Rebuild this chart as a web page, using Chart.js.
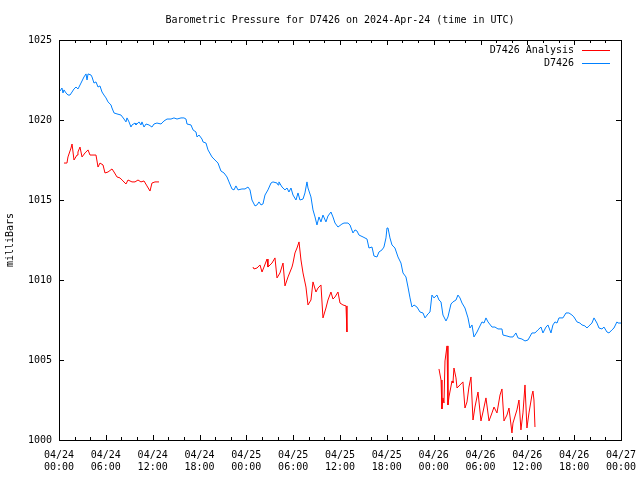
<!DOCTYPE html>
<html>
<head>
<meta charset="utf-8">
<script src="https://cdn.jsdelivr.net/npm/chart.js@4/dist/chart.umd.min.js"></script>
<style>
html,body{margin:0;padding:0;background:#fff;}
#wrap{width:640px;height:480px;}
</style>
</head>
<body>
<div id="wrap"><canvas id="c" width="640" height="480"></canvas></div>
<script>
// ---- DATA (hours since 2024-04-24 00:00 UTC, pressure in mb) ----
const blueHours = [0.13,0.38,0.51,0.64,0.90,1.15,1.41,1.67,1.92,2.18,2.43,2.56,2.82,3.20,3.46,3.59,3.72,4.10,4.23,4.48,
4.74,5.00,5.25,5.51,5.76,6.02,6.28,6.66,6.79,7.05,7.43,7.94,8.33,8.58,8.71,8.97,9.22,9.35,9.74,9.86,
10.25,10.50,10.63,10.89,11.15,11.53,11.91,12.17,12.55,13.07,13.45,13.84,14.35,14.73,15.12,15.63,16.01,16.27,16.40,16.91,
17.17,17.55,17.68,17.94,18.32,18.45,18.83,19.09,19.60,19.98,20.37,20.75,21.14,21.52,21.78,22.16,22.42,22.67,22.93,23.44,
23.83,24.21,24.47,24.72,25.11,25.37,25.62,25.88,26.13,26.39,26.77,27.16,27.41,27.93,28.06,28.18,28.57,28.95,29.21,29.46,
29.72,29.98,30.36,30.62,30.87,31.26,31.51,31.77,31.90,32.28,32.54,32.80,33.05,33.31,33.56,33.82,34.20,34.46,34.84,35.10,
35.36,35.74,36.25,36.51,37.02,37.28,37.66,37.92,38.18,38.43,38.95,39.46,39.71,40.10,40.35,40.74,40.99,41.38,41.63,41.89,
42.02,42.15,42.40,42.66,43.04,43.43,43.81,44.07,44.45,44.71,44.97,45.22,45.48,45.86,46.25,46.63,46.89,47.27,47.53,47.78,
48.04,48.42,48.68,48.94,49.19,49.58,49.83,50.22,50.47,50.86,51.11,51.37,51.63,52.01,52.40,52.65,52.91,53.16,53.55,53.80,
54.19,54.45,54.70,54.96,55.47,55.85,56.24,56.75,56.88,57.39,57.78,58.16,58.54,58.80,59.31,59.70,60.08,60.59,60.98,61.36,
61.75,62.00,62.39,62.64,63.03,63.28,63.54,63.80,64.05,64.56,64.95,65.33,65.72,65.97,66.36,66.74,67.00,67.38,67.64,67.90,
68.28,68.54,68.92,69.18,69.56,69.82,70.20,70.46,70.84,71.10,71.48,71.61,72.00];
const bluePressure = [1021.81,1022.00,1021.69,1021.88,1021.69,1021.56,1021.56,1021.75,1021.94,1022.06,1021.94,1022.06,1022.31,1022.69,1022.88,1022.50,1022.88,1022.81,1022.69,1022.31,
1022.38,1022.06,1022.13,1021.75,1021.56,1021.38,1021.13,1020.94,1020.75,1020.44,1020.38,1020.31,1020.06,1019.88,1020.13,1019.88,1019.56,1019.69,1019.81,1019.69,
1019.88,1019.69,1019.88,1019.56,1019.75,1019.69,1019.56,1019.75,1019.81,1019.75,1019.94,1020.06,1020.06,1020.13,1020.06,1020.13,1020.13,1020.06,1019.75,1019.69,
1019.38,1019.25,1018.94,1019.06,1018.81,1018.63,1018.56,1018.13,1017.69,1017.50,1017.31,1016.81,1016.69,1016.44,1016.13,1015.69,1015.63,1015.88,1015.63,1015.69,
1015.69,1015.81,1015.63,1015.00,1014.63,1014.69,1014.88,1014.69,1014.75,1015.31,1015.63,1016.06,1016.13,1016.06,1015.94,1016.13,1015.81,1015.63,1015.75,1015.50,
1015.75,1015.31,1015.00,1015.44,1015.00,1015.06,1015.44,1016.13,1015.75,1015.19,1014.38,1013.94,1013.44,1013.94,1013.63,1014.06,1013.63,1014.00,1014.25,1013.94,
1013.56,1013.31,1013.50,1013.56,1013.56,1013.44,1012.94,1013.13,1013.06,1012.81,1012.69,1012.56,1012.00,1012.06,1011.50,1011.44,1011.75,1011.88,1012.06,1012.63,
1013.25,1013.25,1012.63,1012.19,1012.00,1011.44,1011.06,1010.44,1010.19,1009.56,1008.88,1008.31,1008.44,1008.31,1008.00,1007.94,1007.63,1007.88,1008.00,1009.06,
1008.88,1009.06,1008.75,1008.63,1007.81,1007.44,1007.69,1008.50,1008.63,1008.75,1009.06,1008.88,1008.56,1008.25,1007.63,1007.00,1007.19,1006.44,1006.75,1007.00,
1007.38,1007.31,1007.63,1007.38,1007.06,1007.06,1006.94,1006.94,1006.56,1006.50,1006.44,1006.44,1006.69,1006.38,1006.31,1006.19,1006.25,1006.69,1006.69,1006.88,
1007.06,1006.69,1007.06,1007.19,1006.69,1007.19,1007.38,1007.31,1007.63,1007.63,1007.94,1007.94,1007.81,1007.69,1007.38,1007.31,1007.19,1007.13,1007.00,1007.13,
1007.31,1007.63,1007.31,1007.00,1006.94,1007.06,1006.75,1006.69,1006.88,1007.00,1007.38,1007.31,1007.31];

// Analysis series; null marks a gap between reporting runs
const redHours = [0.64,1.02,1.15,1.54,1.67,1.92,2.31,2.43,2.69,2.95,3.33,3.72,3.97,4.74,5.00,5.25,5.64,5.89,6.28,6.79,
7.05,7.43,7.81,8.20,8.58,8.84,9.35,9.74,10.12,10.50,10.89,11.27,11.66,11.91,12.30,12.81,
18.00,
24.85,24.98,25.37,25.75,26.01,26.26,26.65,26.77,27.29,27.67,27.93,28.31,28.70,28.95,29.34,29.85,29.98,30.23,30.49,30.75,
31.00,31.26,31.64,31.90,32.28,32.54,32.92,33.18,33.56,33.82,34.20,34.46,34.84,35.10,35.36,35.74,36.00,36.38,36.77,36.89,
42.00,
48.68,48.94,49.06,49.19,49.32,49.45,49.71,49.83,49.96,50.35,50.47,50.60,50.86,50.99,51.75,52.01,52.27,52.52,52.78,53.04,
53.29,53.68,54.06,54.32,54.70,55.09,55.47,55.73,56.11,56.50,56.75,57.01,57.39,57.65,58.03,58.16,58.67,58.93,59.18,59.44,
59.70,59.95,60.21,60.59,60.72,60.85,60.98];
const redPressure = [1017.31,1017.31,1017.69,1018.25,1018.50,1017.50,1017.81,1018.00,1018.31,1017.69,1017.94,1018.13,1017.81,1017.81,1017.06,1017.31,1017.19,1016.69,1016.75,1016.94,
1016.75,1016.44,1016.38,1016.19,1016.00,1016.25,1016.13,1016.13,1016.25,1016.13,1016.19,1015.88,1015.56,1016.06,1016.13,1016.13,
null,
1010.81,1010.69,1010.75,1010.94,1010.50,1010.81,1011.31,1010.81,1011.06,1011.38,1010.13,1010.44,1011.06,1009.63,1010.19,1010.81,1011.06,1011.69,1012.00,1012.38,
1011.25,1010.44,1009.56,1008.44,1008.75,1009.88,1009.25,1009.50,1009.69,1007.63,1008.25,1008.75,1009.25,1008.81,1008.94,1009.25,1008.56,1008.44,1008.38,1006.75,
null,
1004.44,1003.75,1001.94,1002.63,1002.31,1004.94,1005.88,1002.19,1002.69,1003.69,1003.56,1004.50,1003.88,1003.25,1003.63,1002.00,1002.38,1003.31,1003.94,1001.25,
1002.06,1003.00,1001.19,1001.75,1002.63,1001.19,1001.69,1002.06,1001.69,1002.81,1003.19,1001.19,1001.56,1002.00,1000.44,1001.06,1001.88,1002.50,1000.63,1001.69,
1003.44,1000.75,1001.69,1002.81,1003.06,1002.50,1000.81];

const tickDates = ['04/24','04/24','04/24','04/24','04/25','04/25','04/25','04/25','04/26','04/26','04/26','04/26','04/27'];
const tickTimes = ['00:00','06:00','12:00','18:00','00:00','06:00','12:00','18:00','00:00','06:00','12:00','18:00','00:00'];
const seriesNames = ['D7426 Analysis','D7426'];
const seriesColors = ['#ff0000','#0080ff'];
const titleText = 'Barometric Pressure for D7426 on 2024-Apr-24 (time in UTC)';
const yAxisTitle = 'milliBars';

const FONT = "'DejaVu Sans Mono', 'Liberation Mono', monospace";

const framePlugin = {
  id: 'frame',
  afterDraw(chart) {
    const ctx = chart.ctx, a = chart.chartArea;
    const xs = chart.scales.x, ys = chart.scales.y;
    ctx.save();
    ctx.strokeStyle = '#000';
    ctx.lineWidth = 1;
    ctx.beginPath();
    for (let h = 0; h <= 72; h += 2) {
      const px = Math.round(xs.getPixelForValue(h)) + 0.5;
      const len = (h % 6 === 0) ? 5 : 3;
      ctx.moveTo(px, a.bottom); ctx.lineTo(px, a.bottom - len);
      ctx.moveTo(px, a.top); ctx.lineTo(px, a.top + len);
    }
    for (let v = 1000; v <= 1025; v += 5) {
      const py = Math.round(ys.getPixelForValue(v)) + 0.5;
      ctx.moveTo(a.left, py); ctx.lineTo(a.left + 5, py);
      ctx.moveTo(a.right, py); ctx.lineTo(a.right - 5, py);
    }
    ctx.stroke();
    ctx.strokeRect(Math.round(a.left) + 0.5, Math.round(a.top) + 0.5,
                   Math.round(a.right - a.left), Math.round(a.bottom - a.top));
    // legend (gnuplot style: text, then line sample)
    ctx.font = '10px ' + FONT;
    ctx.fillStyle = '#000';
    ctx.textAlign = 'right';
    ctx.textBaseline = 'middle';
    const rows = [50, 63];
    chart.data.datasets.forEach((ds, i) => {
      const y = rows[i];
      ctx.fillText(ds.label, a.right - 47, y);
      ctx.beginPath();
      ctx.strokeStyle = ds.borderColor;
      ctx.moveTo(a.right - 39, y + 0.5);
      ctx.lineTo(a.right - 11, y + 0.5);
      ctx.stroke();
    });
    ctx.restore();
  }
};

new Chart(document.getElementById('c'), {
  type: 'line',
  data: {
    datasets: [
      {
        label: seriesNames[0],
        data: redHours.map((h, i) => ({ x: h, y: redPressure[i] })),
        borderColor: seriesColors[0],
        borderWidth: 1,
        pointRadius: 0,
        tension: 0,
        spanGaps: false
      },
      {
        label: seriesNames[1],
        data: blueHours.map((h, i) => ({ x: h, y: bluePressure[i] })),
        borderColor: seriesColors[1],
        borderWidth: 1,
        pointRadius: 0,
        tension: 0
      }
    ]
  },
  options: {
    responsive: false,
    animation: false,
    layout: { padding: { left: 0, right: 19, top: 0, bottom: 0 } },
    plugins: {
      legend: { display: false },
      tooltip: { enabled: false },
      title: {
        display: true,
        text: titleText,
        fullSize: false,
        color: '#000',
        font: { family: FONT, size: 10, weight: 'normal', lineHeight: 1.2 },
        padding: { top: 14, bottom: 14 }
      }
    },
    scales: {
      x: {
        type: 'linear',
        min: 0, max: 72,
        grid: { display: false, drawTicks: false },
        border: { display: false },
        ticks: {
          stepSize: 6,
          autoSkip: false,
          maxRotation: 0,
          padding: 9,
          color: '#000',
          font: { family: FONT, size: 10, lineHeight: 1.2 },
          callback: (v) => { const k = Math.round(v / 6); return [tickDates[k], tickTimes[k]]; }
        },
        afterFit: (s) => { s.height = 40; s.paddingLeft = 0; s.paddingRight = 0; }
      },
      y: {
        type: 'linear',
        min: 1000, max: 1025,
        grid: { display: false, drawTicks: false },
        border: { display: false },
        ticks: {
          stepSize: 5,
          padding: 7,
          color: '#000',
          font: { family: FONT, size: 10 },
          callback: (v) => String(v)
        },
        title: {
          display: true,
          text: yAxisTitle,
          color: '#000',
          font: { family: FONT, size: 10, lineHeight: 1.2 },
          padding: { top: 4, bottom: 0 }
        },
        afterFit: (s) => { s.width = 59; s.paddingTop = 0; s.paddingBottom = 0; }
      }
    }
  },
  plugins: [framePlugin]
});
</script>
</body>
</html>
